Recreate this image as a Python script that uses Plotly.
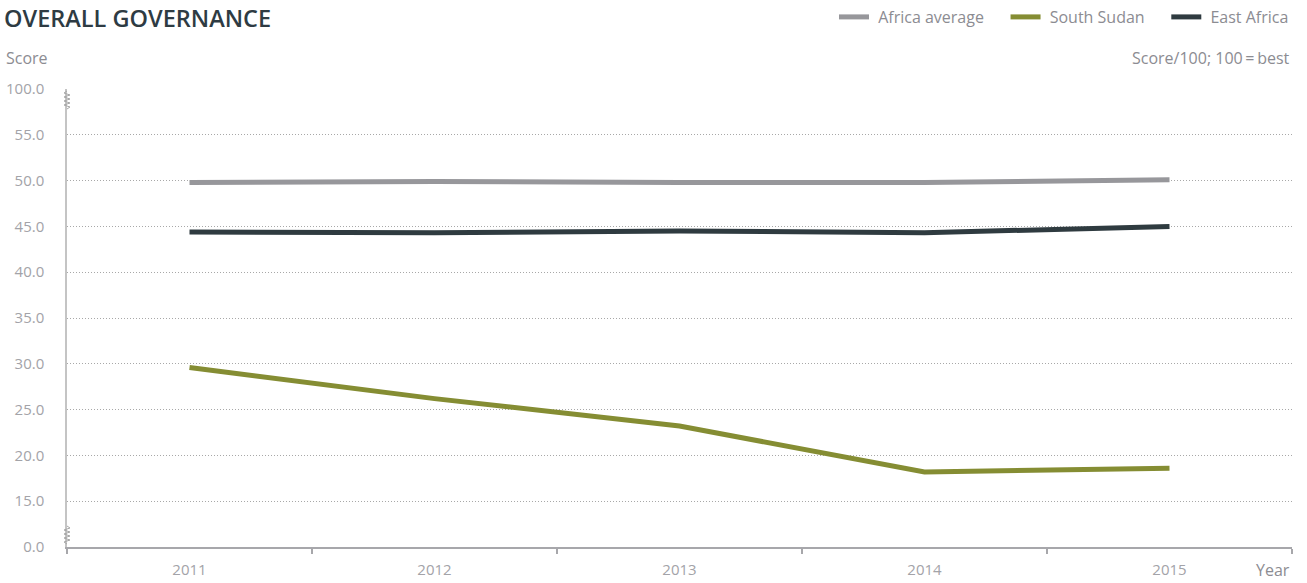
import plotly.graph_objects as go

years = ["2011", "2012", "2013", "2014", "2015"]
africa_avg = [49.8, 49.9, 49.8, 49.8, 50.1]
south_sudan = [29.6, 26.2, 23.2, 18.2, 18.6]
east_africa = [44.4, 44.3, 44.5, 44.3, 45.0]

# broken axis: 0.0 and 100.0 sit one step beyond the 15..55 band
y_tickvals = [10, 15, 20, 25, 30, 35, 40, 45, 50, 55, 60]
y_ticktext = ["0.0", "15.0", "20.0", "25.0", "30.0", "35.0", "40.0",
              "45.0", "50.0", "55.0", "100.0"]

FONT = "Open Sans"
GREY_TXT = "#8c8c92"
GREY_TICK = "#a3a3a8"
NB = "\u00a0"

fig = go.Figure()
series = [
    ("Africa average", africa_avg, "#97979b"),
    ("South Sudan", south_sudan, "#858d33"),
    ("East Africa", east_africa, "#2f3b40"),
]
for i, (name, vals, col) in enumerate(series):
    label = NB + name + (NB * 4 if i < len(series) - 1 else "")
    fig.add_trace(go.Scatter(
        x=years, y=vals, name=label, mode="lines",
        line=dict(color=col, width=5),
    ))

fig.update_layout(
    width=1307, height=583,
    margin=dict(l=67, r=15, t=89, b=36, autoexpand=False),
    paper_bgcolor="white", plot_bgcolor="white",
    font=dict(family=FONT, color=GREY_TXT, size=15),
    showlegend=True,
    legend=dict(orientation="h", xref="paper", yref="container",
                x=1.0 + 2/1225, xanchor="right", y=1.0, yanchor="top",
                font=dict(size=16, color=GREY_TXT),
                itemwidth=30, tracegroupgap=0,
                bgcolor="rgba(0,0,0,0)"),
)

fig.update_xaxes(
    type="category", range=[-0.5, 4.5],
    showgrid=False, zeroline=False,
    showline=True, linecolor="#a7a7ab", linewidth=2,
    ticks="outside", tickson="boundaries", ticklen=5,
    tickcolor="#a7a7ab", tickwidth=1.5,
    ticklabelstandoff=8,
    tickfont=dict(size=15, color=GREY_TICK, family=FONT),
    fixedrange=True,
)
fig.update_yaxes(
    range=[10, 60], tickvals=y_tickvals, ticktext=y_ticktext,
    showgrid=True, gridcolor="#a8a8a8", griddash="1px,2px", gridwidth=1,
    zeroline=False, showline=True, linecolor="#c4c4c4", linewidth=1.5,
    ticks="", ticklabelstandoff=18,
    tickfont=dict(size=15, color=GREY_TICK, family=FONT),
    fixedrange=True,
)

# axis break squiggles
def zig(n, start, step):
    d = f"M0,{start}"
    y = start
    for i in range(n):
        y += step
        d += f" L{-3 if i % 2 == 0 else 3},{y}"
    y += step
    d += f" L0,{y}"
    return d

fig.add_shape(type="path", xref="paper", yref="y", xsizemode="pixel",
              ysizemode="pixel", xanchor=0, yanchor=60,
              path=zig(8, -2, -2), line=dict(color="#a8a8a8", width=1),
              layer="above")
fig.add_shape(type="path", xref="paper", yref="y", xsizemode="pixel",
              ysizemode="pixel", xanchor=0, yanchor=10,
              path=zig(8, 3, 2), line=dict(color="#a8a8a8", width=1),
              layer="above")

fig.add_annotation(text="OVERALL GOVERNANCE", xref="paper", yref="paper",
                   x=-65/1225, y=1 + 89/458, xanchor="left", yanchor="top",
                   showarrow=False,
                   font=dict(size=23.5, color="#2e3b43", family=FONT, weight=600))
fig.add_annotation(text="Score", xref="paper", yref="paper",
                   x=-63/1225, y=1 + 31/458, xanchor="left", yanchor="middle",
                   showarrow=False, font=dict(size=16, color=GREY_TXT))
fig.add_annotation(text="Score/100; 100\u2009=\u2009best", xref="paper", yref="paper",
                   x=1.0, y=1 + 31/458, xanchor="right", yanchor="middle",
                   showarrow=False, font=dict(size=16, color=GREY_TXT))
fig.add_annotation(text="Year", xref="paper", yref="paper",
                   x=1.0, y=-23/458, xanchor="right", yanchor="middle",
                   showarrow=False, font=dict(size=16, color=GREY_TXT))

fig.write_html("out.html", config={"displayModeBar": False},
               post_script="document.body.style.margin='0';")
